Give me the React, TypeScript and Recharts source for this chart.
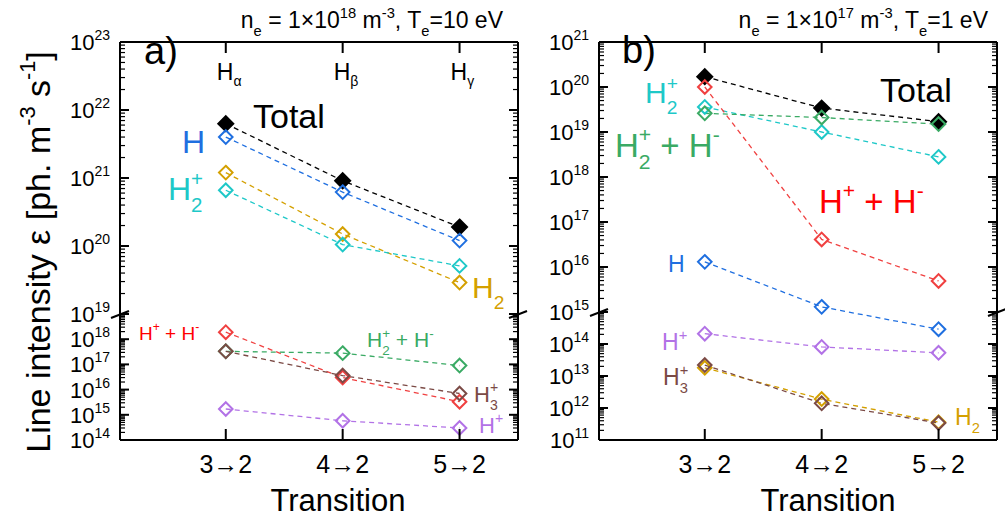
import React from "react";
import { LineChart, Line, XAxis, YAxis } from "recharts";

// categories
const transitions = ["3→2", "4→2", "5→2"];
const balmer = ["α", "β", "γ"];

// panel a) ne = 1e18, Te = 10 eV
const aTotal = [6.3e21, 9.1e20, 1.9e20];
const aH = [4.0e21, 6.2e20, 1.2e20];
const aH2 = [1.2e21, 1.5e20, 2.9e19];
const aH2p = [6.6e20, 1.05e20, 5.1e19];
const aHpHm = [1.9e18, 3.0e16, 3.3e15];
const aH2pHm = [3.3e17, 2.8e17, 9.0e16];
const aH3p = [3.3e17, 3.6e16, 7.0e15];
const aHp = [1.7e15, 5.8e14, 3.0e14];

// panel b) ne = 1e17, Te = 1 eV
const bTotal = [1.7e20, 3.4e19, 1.7e19];
const bHpHm = [1.0e20, 4.1e16, 4.9e15];
const bH2p = [3.6e19, 1.0e19, 2.8e18];
const bH2pHm = [2.6e19, 2.1e19, 1.5e19];
const bH = [1.3e16, 1.3e15, 2.9e14];
const bHp = [2.1e14, 8.1e13, 5.3e13];
const bH3p = [2.2e13, 1.4e12, 3.4e11];
const bH2 = [1.8e13, 1.9e12, 3.6e11];

const C = {
  total: "#000000",
  H: "#1f6fe0",
  H2: "#d4a000",
  H2p: "#1ec8c8",
  HpHm: "#f04040",
  H2pHm: "#3aaa64",
  H3p: "#7b4a45",
  Hp: "#b272e6",
};

// broken log axis: lower decades [lo, brk] take fraction f of the height
const brokenLog = (lo: number, brk: number, hi: number, f: number) => (v: number) => {
  const L = Math.log10(v);
  return L < brk ? ((L - lo) / (brk - lo)) * f : f + ((L - brk) / (hi - brk)) * (1 - f);
};

function logTicks(lo: number, hi: number, tf: (v: number) => number) {
  const out: { u: number; major: boolean; exp: number }[] = [];
  for (let d = lo; d <= hi; d++) {
    for (let m = 1; m <= 9; m++) {
      if (d === hi && m > 1) break;
      out.push({ u: tf(m * Math.pow(10, d)), major: m === 1, exp: d });
    }
  }
  return out;
}

type Seg = [string, string?];

function Rich({ x, y, fs, segs, fill = "#000", anchor = "start", transform }: any) {
  let cur = 0;
  let lastSub = "";
  const kids = (segs as Seg[]).map(([t, m = "n"], i) => {
    const target = m === "b" ? 0.36 * fs : m === "p" || m === "P" ? -0.45 * fs : 0;
    const dy = target - cur;
    cur = target;
    const size = m === "n" ? fs : 0.64 * fs;
    const dx = m === "P" ? -0.556 * 0.64 * fs * lastSub.length : undefined;
    if (m === "b") lastSub = t;
    return (
      <tspan key={i} dy={dy} dx={dx} fontSize={size}>
        {t}
      </tspan>
    );
  });
  return (
    <text x={x} y={y} fontSize={fs} fill={fill} textAnchor={anchor} transform={transform}>
      {kids}
    </text>
  );
}

const diamond = (color: string, filled: boolean) => (p: any) => {
  const { cx, cy, index } = p;
  const r = filled ? 7.5 : 6.8;
  return (
    <path
      key={`d-${index}`}
      d={`M${cx},${cy - r}L${cx + r},${cy}L${cx},${cy + r}L${cx - r},${cy}Z`}
      fill={filled ? color : "none"}
      stroke={color}
      strokeWidth={2}
    />
  );
};

interface PanelProps {
  left: number;
  series: { key: string; values: number[]; color: string; filled?: boolean }[];
  tf: (v: number) => number;
  lo: number;
  hi: number;
  showBalmer?: boolean;
}

function Panel({ left, series, tf, lo, hi, showBalmer }: PanelProps) {
  const rows = transitions.map((t, i) => {
    const r: Record<string, any> = { x: i + 1, name: t };
    series.forEach((s) => (r[s.key] = tf(s.values[i])));
    return r;
  });
  const ticks = logTicks(lo, hi, tf);
  const info = (v: number) => ticks.find((t) => Math.abs(t.u - v) < 1e-9);

  const LeftTick = (p: any) => {
    const t = info(p.payload.value);
    if (!t) return <g />;
    return (
      <g>
        <line x1={p.x} x2={p.x + (t.major ? 9 : 5)} y1={p.y} y2={p.y} stroke="#000" strokeWidth={t.major ? 2 : 1.2} />
        {t.major && (
          <text x={p.x - 10} y={p.y + 8} textAnchor="end" fontSize={22} fill="#000">
            10
            <tspan dy={-10} fontSize={14}>
              {t.exp}
            </tspan>
          </text>
        )}
      </g>
    );
  };
  const RightTick = (p: any) => {
    const t = info(p.payload.value);
    if (!t) return <g />;
    return <line x1={p.x} x2={p.x - (t.major ? 9 : 5)} y1={p.y} y2={p.y} stroke="#000" strokeWidth={t.major ? 2 : 1.2} />;
  };
  const BottomTick = (p: any) => (
    <g>
      <line x1={p.x} x2={p.x} y1={p.y} y2={p.y - 11} stroke="#000" strokeWidth={2} />
      <text x={p.x} y={p.y + 33} textAnchor="middle" fontSize={25} fill="#000">
        {transitions[p.payload.value - 1]}
      </text>
    </g>
  );
  const TopTick = (p: any) => (
    <g>
      <line x1={p.x} x2={p.x} y1={p.y} y2={p.y + 11} stroke="#000" strokeWidth={2} />
      {showBalmer && (
        <text x={p.x - 9} y={p.y + 38} fontSize={23} fill="#000">
          H
          <tspan dy={6} fontSize={14}>
            {balmer[p.payload.value - 1]}
          </tspan>
        </text>
      )}
    </g>
  );

  const axisLine = { stroke: "#000", strokeWidth: 2 };
  return (
    <div style={{ position: "absolute", left, top: 0 }}>
      <LineChart width={526} height={518} data={rows} margin={{ top: 0, right: 0, bottom: 0, left: 0 }}>
        <XAxis
          xAxisId="b"
          type="number"
          dataKey="x"
          domain={[0.095, 3.5]}
          ticks={[1, 2, 3]}
          interval={0}
          height={78}
          axisLine={axisLine}
          tickLine={false}
          tickSize={0}
          tickMargin={0}
          tick={BottomTick}
          allowDataOverflow
        />
        <XAxis
          xAxisId="t"
          orientation="top"
          type="number"
          dataKey="x"
          domain={[0.095, 3.5]}
          ticks={[1, 2, 3]}
          interval={0}
          height={42}
          axisLine={axisLine}
          tickLine={false}
          tickSize={0}
          tickMargin={0}
          tick={TopTick}
          allowDataOverflow
        />
        <YAxis
          yAxisId="l"
          type="number"
          domain={[0, 1]}
          ticks={ticks.map((t) => t.u)}
          interval={0}
          width={120}
          axisLine={axisLine}
          tickLine={false}
          tickSize={0}
          tickMargin={0}
          tick={LeftTick}
          allowDataOverflow
        />
        <YAxis
          yAxisId="r"
          orientation="right"
          type="number"
          domain={[0, 1]}
          ticks={ticks.map((t) => t.u)}
          interval={0}
          width={8}
          axisLine={axisLine}
          tickLine={false}
          tickSize={0}
          tickMargin={0}
          tick={RightTick}
          allowDataOverflow
        />
        {series.map((s) => (
          <Line
            key={s.key}
            xAxisId="b"
            yAxisId="l"
            type="linear"
            dataKey={s.key}
            stroke={s.color}
            strokeWidth={1.3}
            strokeDasharray="5 4"
            dot={diamond(s.color, !!s.filled)}
            activeDot={false}
            isAnimationActive={false}
          />
        ))}
      </LineChart>
    </div>
  );
}

const tfA = brokenLog(14, 19, 23, 126 / 398);
const tfB = brokenLog(11, 15, 21, 128 / 398);

const seriesA = [
  { key: "total", values: aTotal, color: C.total, filled: true },
  { key: "H", values: aH, color: C.H },
  { key: "H2", values: aH2, color: C.H2 },
  { key: "H2p", values: aH2p, color: C.H2p },
  { key: "HpHm", values: aHpHm, color: C.HpHm },
  { key: "H2pHm", values: aH2pHm, color: C.H2pHm },
  { key: "H3p", values: aH3p, color: C.H3p },
  { key: "Hp", values: aHp, color: C.Hp },
];
const seriesB = [
  { key: "total", values: bTotal, color: C.total, filled: true },
  { key: "H", values: bH, color: C.H },
  { key: "H2p", values: bH2p, color: C.H2p },
  { key: "HpHm", values: bHpHm, color: C.HpHm },
  { key: "H2pHm", values: bH2pHm, color: C.H2pHm },
  { key: "Hp", values: bHp, color: C.Hp },
  { key: "H2", values: bH2, color: C.H2 },
  { key: "H3p", values: bH3p, color: C.H3p },
];

const Slash = ({ x, y }: { x: number; y: number }) => (
  <line x1={x - 9} y1={y + 4} x2={x + 9} y2={y - 3} stroke="#000" strokeWidth={2} />
);

export default function App() {
  return (
    <div
      style={{
        position: "absolute",
        left: 0,
        top: 0,
        width: 1005,
        height: 518,
        overflow: "hidden",
        background: "#fff",
        fontFamily: "'Liberation Sans', Arial, sans-serif",
      }}
    >
      <Panel left={0} series={seriesA} tf={tfA} lo={14} hi={23} showBalmer />
      <Panel left={479} series={seriesB} tf={tfB} lo={11} hi={21} />
      <svg width={1005} height={518} style={{ position: "absolute", left: 0, top: 0, pointerEvents: "none" }}>
        <Slash x={120} y={314} />
        <Slash x={518} y={314} />
        <Slash x={599} y={312} />
        <Slash x={997} y={312} />

        <Rich
          x={50}
          y={252}
          fs={34}
          anchor="middle"
          transform="rotate(-90 50 252)"
          segs={[["Line intensity ε [ph. m"], ["-3", "p"], [" s"], ["-1", "p"], ["]"]]}
        />
        <Rich x={338} y={511} fs={31} anchor="middle" segs={[["Transition"]]} />
        <Rich x={828} y={511} fs={31} anchor="middle" segs={[["Transition"]]} />

        {/* panel a */}
        <Rich
          x={503}
          y={28}
          fs={23}
          anchor="end"
          segs={[["n"], ["e", "b"], [" = 1×10"], ["18", "p"], [" m"], ["-3", "p"], [", T"], ["e", "b"], ["=10 eV"]]}
        />
        <Rich x={144} y={64} fs={38} segs={[["a)"]]} />
        <Rich x={253} y={128} fs={34} segs={[["Total"]]} />
        <Rich x={182} y={153} fs={32} fill={C.H} segs={[["H"]]} />
        <Rich x={168} y={200} fs={32} fill={C.H2p} segs={[["H"], ["2", "b"], ["+", "P"]]} />
        <Rich x={472} y={298} fs={30} fill={C.H2} segs={[["H"], ["2", "b"]]} />
        <Rich x={139} y={340} fs={19} fill="#ff0000" segs={[["H"], ["+", "p"], [" + H"], ["-", "p"]]} />
        <Rich x={367} y={347} fs={21} fill={C.H2pHm} segs={[["H"], ["2", "b"], ["+", "P"], [" + H"], ["-", "p"]]} />
        <Rich x={474} y={402} fs={22} fill={C.H3p} segs={[["H"], ["3", "b"], ["+", "P"]]} />
        <Rich x={479} y={433} fs={22} fill={C.Hp} segs={[["H"], ["+", "p"]]} />

        {/* panel b */}
        <Rich
          x={988}
          y={28}
          fs={23}
          anchor="end"
          segs={[["n"], ["e", "b"], [" = 1×10"], ["17", "p"], [" m"], ["-3", "p"], [", T"], ["e", "b"], ["=1 eV"]]}
        />
        <Rich x={622} y={63} fs={38} segs={[["b)"]]} />
        <Rich x={645} y={103} fs={30} fill={C.H2p} segs={[["H"], ["2", "b"], ["+", "P"]]} />
        <Rich x={880} y={102} fs={34} segs={[["Total"]]} />
        <Rich x={615} y={157} fs={33} fill={C.H2pHm} segs={[["H"], ["2", "b"], ["+", "P"], [" + H"], ["-", "p"]]} />
        <Rich x={819} y={213} fs={33} fill="#ff0000" segs={[["H"], ["+", "p"], [" + H"], ["-", "p"]]} />
        <Rich x={668} y={272} fs={23} fill={C.H} segs={[["H"]]} />
        <Rich x={662} y={350} fs={23} fill={C.Hp} segs={[["H"], ["+", "p"]]} />
        <Rich x={663} y={385} fs={23} fill={C.H3p} segs={[["H"], ["3", "b"], ["+", "P"]]} />
        <Rich x={955} y={425} fs={23} fill={C.H2} segs={[["H"], ["2", "b"]]} />
      </svg>
    </div>
  );
}
